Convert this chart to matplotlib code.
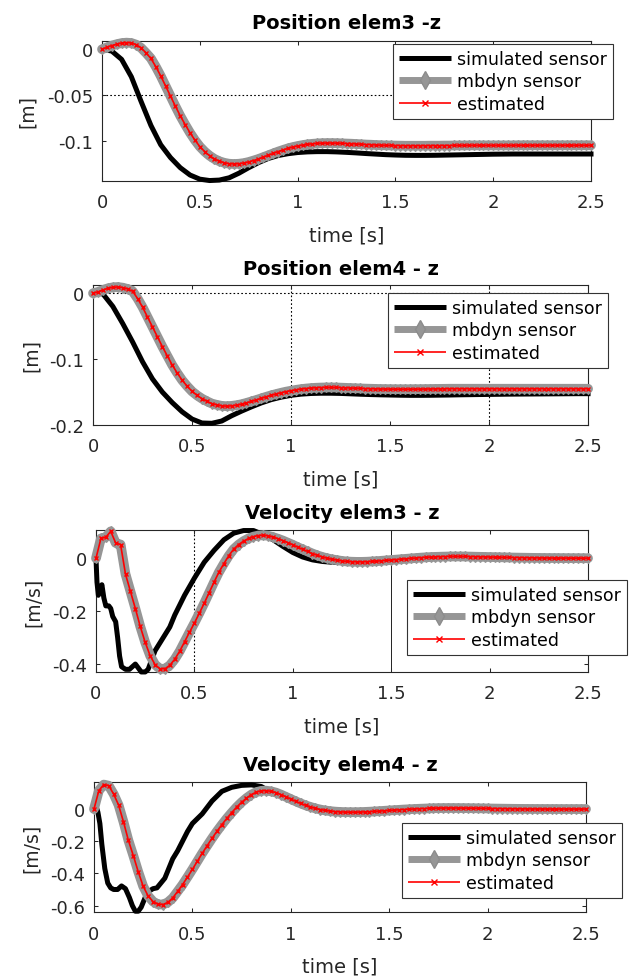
import numpy as np
import matplotlib
matplotlib.use("Agg")
import matplotlib.pyplot as plt

# -----------------------------
# Data
# -----------------------------
# estimated signals, one sample every 0.025 s from 0 to 2.5 s
est_pos3 = [
    0.000, 0.002, 0.004, 0.0055, 0.0067, 0.0072, 0.0068, 0.005, 0.0015, -0.004,
    -0.010, -0.019, -0.029, -0.040, -0.051, -0.062, -0.0725, -0.082, -0.091, -0.099,
    -0.106, -0.1115, -0.116, -0.1195, -0.122, -0.1237, -0.1247, -0.125, -0.1247, -0.124,
    -0.1228, -0.1212, -0.1195, -0.1175, -0.1155, -0.1135, -0.1115, -0.1097, -0.108, -0.1066,
    -0.1054, -0.1044, -0.1036, -0.103, -0.1026, -0.1023, -0.1022, -0.1022, -0.1023, -0.1025,
    -0.1027, -0.1029, -0.1032, -0.1035, -0.1038, -0.104, -0.1043, -0.1045, -0.1047, -0.1048,
    -0.1049, -0.105, -0.1051, -0.1051, -0.1051, -0.1051, -0.1051, -0.105, -0.105, -0.105,
    -0.1049, -0.1049, -0.1048, -0.1048, -0.1048, -0.1047, -0.1047, -0.1047, -0.1047, -0.1047,
    -0.1047, -0.1047, -0.1047, -0.1047, -0.1047, -0.1046, -0.1046, -0.1046, -0.1046, -0.1046,
    -0.1046, -0.1046, -0.1046, -0.1046, -0.1046, -0.1046, -0.1046, -0.1046, -0.1046, -0.1046,
    -0.1046,
]
est_pos4 = [
    0.000, 0.002, 0.005, 0.0075, 0.009, 0.0095, 0.0085, 0.0065, 0.003, -0.008,
    -0.021, -0.036, -0.051, -0.066, -0.081, -0.095, -0.109, -0.121, -0.132, -0.141,
    -0.149, -0.155, -0.160, -0.164, -0.1675, -0.1695, -0.171, -0.1715, -0.171, -0.170,
    -0.1685, -0.1665, -0.1643, -0.162, -0.1596, -0.1572, -0.155, -0.153, -0.1511, -0.1494,
    -0.148, -0.1467, -0.1456, -0.1447, -0.144, -0.1435, -0.1432, -0.143, -0.143, -0.1431,
    -0.1433, -0.1436, -0.1439, -0.1442, -0.1445, -0.1448, -0.145, -0.1452, -0.1454, -0.1455,
    -0.1456, -0.1457, -0.1457, -0.1457, -0.1457, -0.1456, -0.1456, -0.1455, -0.1454, -0.1453,
    -0.1452, -0.1451, -0.145, -0.145, -0.145, -0.145, -0.145, -0.145, -0.145, -0.145,
    -0.145, -0.145, -0.145, -0.145, -0.145, -0.145, -0.145, -0.145, -0.145, -0.145,
    -0.145, -0.145, -0.145, -0.145, -0.145, -0.145, -0.145, -0.145, -0.145, -0.145,
    -0.145,
]
est_vel3 = [
    0.000, 0.075, 0.080, 0.102, 0.058, 0.052, -0.060, -0.125, -0.190, -0.258,
    -0.318, -0.368, -0.402, -0.418, -0.418, -0.405, -0.382, -0.352, -0.316, -0.280,
    -0.245, -0.208, -0.170, -0.130, -0.090, -0.052, -0.020, 0.010, 0.035, 0.052,
    0.065, 0.075, 0.082, 0.086, 0.087, 0.085, 0.080, 0.074, 0.067, 0.059,
    0.051, 0.042, 0.034, 0.026, 0.018, 0.011, 0.005, 0.000, -0.004, -0.007,
    -0.010, -0.012, -0.013, -0.0135, -0.0135, -0.013, -0.012, -0.011, -0.0095, -0.008,
    -0.0065, -0.005, -0.0035, -0.002, -0.0005, 0.001, 0.0025, 0.0037, 0.0047, 0.0054,
    0.006, 0.0065, 0.007, 0.007, 0.007, 0.0068, 0.0065, 0.006, 0.0056, 0.0052,
    0.0048, 0.0044, 0.004, 0.0036, 0.0032, 0.0028, 0.0025, 0.0022, 0.0019, 0.0016,
    0.0014, 0.0012, 0.001, 0.0009, 0.0008, 0.0007, 0.0006, 0.0005, 0.0005, 0.0004,
    0.0004,
]
est_vel4 = [
    0.000, 0.115, 0.152, 0.145, 0.093, 0.025, -0.080, -0.195, -0.290, -0.390,
    -0.480, -0.540, -0.575, -0.592, -0.594, -0.580, -0.553, -0.512, -0.470, -0.423,
    -0.375, -0.325, -0.275, -0.228, -0.182, -0.138, -0.097, -0.058, -0.022, 0.012,
    0.042, 0.068, 0.090, 0.105, 0.113, 0.114, 0.110, 0.102, 0.090, 0.076,
    0.062, 0.048, 0.035, 0.023, 0.013, 0.004, -0.003, -0.009, -0.013, -0.016,
    -0.018, -0.019, -0.0195, -0.0195, -0.019, -0.018, -0.0165, -0.015, -0.013, -0.011,
    -0.009, -0.007, -0.005, -0.003, -0.0015, 0.000, 0.0015, 0.0028, 0.004, 0.005,
    0.0057, 0.006, 0.0062, 0.0062, 0.006, 0.0058, 0.0055, 0.0051, 0.0047, 0.0042,
    0.0037, 0.0032, 0.0027, 0.0023, 0.0019, 0.0015, 0.0012, 0.0009, 0.0007, 0.0005,
    0.0003, 0.0002, 0.0001, 0.0, 0.0, -0.0001, -0.0001, -0.0001, -0.0001, -0.0001,
    -0.0001,
]

# mbdyn sensor lies on top of the estimate
mbdyn_pos3 = list(est_pos3)
mbdyn_pos4 = list(est_pos4)
mbdyn_vel3 = list(est_vel3)
mbdyn_vel4 = list(est_vel4)

# simulated sensor, positions: one sample every 0.05 s
sim_pos3 = [
    0.000, -0.002, -0.011, -0.030, -0.057, -0.083, -0.104, -0.118, -0.129, -0.137,
    -0.1415, -0.143, -0.1425, -0.140, -0.135, -0.129, -0.1235, -0.119, -0.1158, -0.1138,
    -0.1125, -0.1118, -0.1115, -0.1115, -0.1118, -0.1123, -0.1129, -0.1136, -0.1142, -0.1148,
    -0.1152, -0.1155, -0.1156, -0.1156, -0.1155, -0.1153, -0.1151, -0.1149, -0.1147, -0.1145,
    -0.1143, -0.1142, -0.1141, -0.1141, -0.1141, -0.1141, -0.1141, -0.1141, -0.1141, -0.1141,
    -0.1141,
]
sim_pos4 = [
    0.000, -0.001, -0.020, -0.046, -0.074, -0.104, -0.130, -0.150, -0.166, -0.180,
    -0.191, -0.197, -0.1975, -0.194, -0.186, -0.179, -0.1725, -0.1665, -0.1615, -0.1578,
    -0.155, -0.1532, -0.1522, -0.1518, -0.1518, -0.1521, -0.1527, -0.1533, -0.1538, -0.1542,
    -0.1545, -0.1548, -0.155, -0.155, -0.1549, -0.1547, -0.1545, -0.1542, -0.154, -0.1538,
    -0.1536, -0.1534, -0.1532, -0.1531, -0.153, -0.1529, -0.1528, -0.1527, -0.1526, -0.1525,
    -0.1525,
]

# simulated sensor, velocities (uneven sampling)
t_sim_vel3 = [
    0, 0.005, 0.012, 0.02, 0.03, 0.04, 0.05, 0.065, 0.075, 0.085,
    0.1, 0.11, 0.12, 0.13, 0.15, 0.17, 0.185, 0.2, 0.215, 0.23,
    0.25, 0.265, 0.28, 0.3, 0.325, 0.35, 0.375, 0.4, 0.45, 0.5,
    0.55, 0.6, 0.65, 0.7, 0.75, 0.8, 0.85, 0.9, 0.95, 1.0,
    1.05, 1.1, 1.15, 1.2, 1.3, 1.4, 1.5, 1.6, 1.7, 1.8,
    1.9, 2.0, 2.1, 2.2, 2.3, 2.4, 2.5,
]
sim_vel3 = [
    0.0, -0.09, -0.14, -0.12, -0.10, -0.15, -0.18, -0.18, -0.19, -0.22,
    -0.24, -0.30, -0.37, -0.41, -0.42, -0.42, -0.41, -0.40, -0.415, -0.43,
    -0.43, -0.42, -0.39, -0.35, -0.32, -0.29, -0.26, -0.215, -0.14, -0.075,
    -0.015, 0.03, 0.07, 0.095, 0.105, 0.105, 0.09, 0.07, 0.045, 0.022,
    0.005, -0.006, -0.012, -0.015, -0.016, -0.013, -0.008, -0.003, 0.001, 0.003,
    0.003, 0.002, 0.001, 0.0, 0.0, 0.0, 0.0,
]
t_sim_vel4 = [
    0, 0.01, 0.02, 0.03, 0.04, 0.055, 0.07, 0.085, 0.1, 0.12,
    0.14, 0.16, 0.18, 0.195, 0.21, 0.225, 0.24, 0.26, 0.28, 0.3,
    0.32, 0.34, 0.36, 0.38, 0.4, 0.425, 0.45, 0.475, 0.5, 0.55,
    0.6, 0.65, 0.7, 0.75, 0.8, 0.85, 0.9, 0.95, 1.0, 1.05,
    1.1, 1.15, 1.2, 1.3, 1.4, 1.5, 1.6, 1.7, 1.8, 1.9,
    2.0, 2.2, 2.4, 2.5,
]
sim_vel4 = [
    0.0, 0.02, -0.02, -0.09, -0.22, -0.37, -0.46, -0.49, -0.5, -0.5,
    -0.478, -0.495, -0.55, -0.6, -0.635, -0.635, -0.61, -0.55, -0.51, -0.495,
    -0.49, -0.46, -0.43, -0.37, -0.31, -0.26, -0.2, -0.14, -0.09, -0.03,
    0.05, 0.11, 0.135, 0.147, 0.15, 0.14, 0.105, 0.08, 0.052, 0.03,
    0.012, -0.001, -0.01, -0.016, -0.018, -0.013, -0.006, 0.0, 0.004, 0.005,
    0.004, 0.002, 0.0, 0.0,
]

titles = ["Position elem3 -z", "Position elem4 - z", "Velocity elem3 - z", "Velocity elem4 - z"]
ylabels = ["[m]", "[m]", "[m/s]", "[m/s]"]
legend_labels = ["simulated sensor", "mbdyn sensor", "estimated"]

xticks = [0, 0.5, 1, 1.5, 2, 2.5]
xticklabels = ["0", "0.5", "1", "1.5", "2", "2.5"]
yticks_pos3 = [-0.1, -0.05, 0]
yticklabels_pos3 = ["-0.1", "-0.05", "0"]
yticks_pos4 = [-0.2, -0.1, 0]
yticklabels_pos4 = ["-0.2", "-0.1", "0"]
yticks_vel3 = [-0.4, -0.2, 0]
yticklabels_vel3 = ["-0.4", "-0.2", "0"]
yticks_vel4 = [-0.6, -0.4, -0.2, 0]
yticklabels_vel4 = ["-0.6", "-0.4", "-0.2", "0"]

# -----------------------------
# Layout (pixel-measured, figure fractions)
# -----------------------------
panels = [
    dict(rect=[0.1622, 0.8141, 0.7774, 0.1430], ylim=(-0.1435, 0.009),
         t_sim=np.linspace(0, 2.5, len(sim_pos3)), sim=sim_pos3, mb=mbdyn_pos3, est=est_pos3,
         yticks=yticks_pos3, yticklabels=yticklabels_pos3,
         leg=(0.9746, 0.9540), ylab_x=-0.153, xlab_y=-0.386, title_dy=18 / 140,
         hlines=[-0.05], vlines=[]),
    dict(rect=[0.1479, 0.5649, 0.7870, 0.1430], ylim=(-0.2, 0.0126),
         t_sim=np.linspace(0, 2.5, len(sim_pos4)), sim=sim_pos4, mb=mbdyn_pos4, est=est_pos4,
         yticks=yticks_pos4, yticklabels=yticklabels_pos4,
         leg=(0.9666, 0.6997), ylab_x=-0.125, xlab_y=-0.386, title_dy=16 / 140,
         hlines=[0], vlines=[(1, ":"), (2, ":")]),
    dict(rect=[0.1526, 0.3126, 0.7822, 0.1450], ylim=(-0.43, 0.107),
         t_sim=t_sim_vel3, sim=sim_vel3, mb=mbdyn_vel3, est=est_vel3,
         yticks=yticks_vel3, yticklabels=yticklabels_vel3,
         leg=(0.9968, 0.4065), ylab_x=-0.128, xlab_y=-0.380, title_dy=18 / 142,
         hlines=[], vlines=[(0.5, ":"), (1.5, "-")]),
    dict(rect=[0.1494, 0.0674, 0.7822, 0.1328], ylim=(-0.64, 0.168),
         t_sim=t_sim_vel4, sim=sim_vel4, mb=mbdyn_vel4, est=est_vel4,
         yticks=yticks_vel4, yticklabels=yticklabels_vel4,
         leg=(0.9889, 0.1583), ylab_x=-0.128, xlab_y=-0.415, title_dy=18 / 130,
         hlines=[], vlines=[]),
]

plt.rcParams['font.family'] = ['DejaVu Sans']

fig = plt.figure(figsize=(6.29, 9.79), dpi=100)

for i, p in enumerate(panels):
    ax = fig.add_axes(p["rect"])
    t_est = np.linspace(0, 2.5, len(p["est"]))

    # reference lines
    for yv in p["hlines"]:
        ax.axhline(yv, color="black", lw=0.8, ls=(0, (1.5, 2)), zorder=1)
    for xv, st in p["vlines"]:
        if st == ":":
            ax.axvline(xv, color="black", lw=0.8, ls=(0, (1.5, 2)), zorder=1)
        else:
            ax.axvline(xv, color="#222222", lw=0.7, zorder=1)

    ax.plot(p["t_sim"], p["sim"], color="black", lw=3.6,
            label=legend_labels[0], clip_on=False, zorder=3)
    ax.plot(t_est, p["mb"], color="#969696", lw=7, marker="d", markersize=5,
            label=legend_labels[1], clip_on=False, zorder=4,
            solid_capstyle="round")
    ax.plot(t_est, p["est"], color="red", lw=1.2, marker="x", markersize=3.5,
            mew=1, label=legend_labels[2], clip_on=False, zorder=5)

    ax.set_xlim(0, 2.5)
    ax.set_ylim(*p["ylim"])
    ax.set_xticks(xticks)
    ax.set_xticklabels(xticklabels)
    ax.set_yticks(p["yticks"])
    ax.set_yticklabels(p["yticklabels"])
    ax.tick_params(direction="in", top=True, right=True, length=3, width=0.75,
                   labelsize=13, colors="#262626")
    ax.tick_params(axis="x", pad=9)
    ax.tick_params(axis="y", pad=6.5)
    for s in ax.spines.values():
        s.set_linewidth(0.8)
        s.set_color("#262626")

    ax.set_title(titles[i], fontsize=14, fontweight="bold", y=1 + p["title_dy"],
                 va="center", pad=0)
    ax.set_xlabel("time [s]", fontsize=14, va="center", color="#262626")
    ax.xaxis.set_label_coords(0.5, p["xlab_y"])
    ax.set_ylabel(ylabels[i], fontsize=13.5, va="center", color="#262626")
    ax.yaxis.set_label_coords(p["ylab_x"], 0.5)

    leg = ax.legend(loc="upper right", bbox_to_anchor=p["leg"],
                    bbox_transform=fig.transFigure, borderaxespad=0,
                    fontsize=12.5, handlelength=3.0, handletextpad=0.35,
                    borderpad=0.35, labelspacing=0.25, numpoints=1,
                    fancybox=False, framealpha=1, edgecolor="#333333")
    leg.get_frame().set_linewidth(0.8)
    handles = leg.get_lines()
    for h in handles:
        h.set_solid_capstyle("butt")
    handles[1].set_linewidth(5)
    handles[1].set_markersize(9)
    handles[1].set_markeredgecolor("#8c8c8c")
    handles[2].set_markersize(4)
    leg.set_zorder(10)

fig.savefig("out.png", dpi=100)
